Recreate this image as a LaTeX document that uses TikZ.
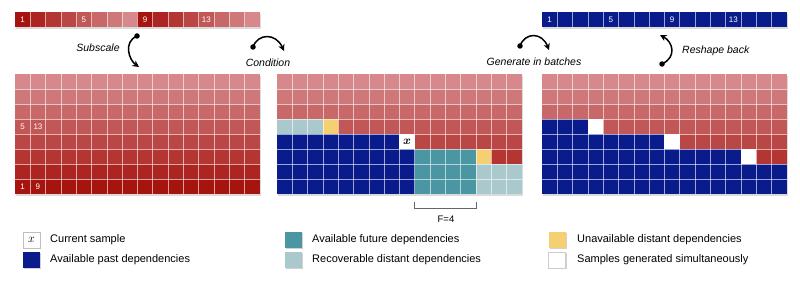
\documentclass[tikz,border=0pt]{standalone}
\usepackage{amsmath}
\usepackage{fontspec}
\setmainfont{Liberation Sans}
\usetikzlibrary{arrows.meta}
\definecolor{rtop}{RGB}{214,136,140}
\definecolor{rbot}{RGB}{165,20,15}
\definecolor{pastblue}{RGB}{10,28,140}
\definecolor{futteal}{RGB}{74,151,163}
\definecolor{distteal}{RGB}{169,201,205}
\definecolor{unavyel}{RGB}{247,207,115}
\tikzset{
  cellline/.style={white, opacity=0.6, line width=0.6pt},
  gshadow/.style={fill=black!14},
  flow/.style={line width=1.5pt, -{Stealth[length=6.5pt,width=6.5pt]}},
  flowdot/.style={circle, fill=black, inner sep=0pt, minimum size=5.5pt},
  steplabel/.style={font=\fontsize{10.5}{12}\selectfont\itshape, inner sep=0pt},
  legtext/.style={anchor=west, font=\fontsize{11}{13}\selectfont, inner sep=0pt},
  legbox/.style={minimum width=17pt, minimum height=16pt, inner sep=0pt},
  legshadow/.style={fill=black!18, minimum width=17pt, minimum height=16pt, inner sep=0pt},
  celllabel/.style={text=white, font=\fontsize{8}{9}\selectfont, inner sep=0pt},
  xmark/.style={inner sep=0pt, font=\fontsize{12}{12}\selectfont},
}
% #1 grid x0, #2 col from, #3 row from, #4 col to, #5 row to, #6 colour
\newcommand{\blk}[6]{\fill[#6] ({#1+(#2-1)*15.3},{74+(#3-1)*15}) rectangle ({#1+#4*15.3},{74+#5*15});}
\newcommand{\redrows}[1]{%
  \fill[gshadow] ({#1+1},76) rectangle ++(244.8,120);
  \foreach \r in {1,...,8}{%
    \pgfmathtruncatemacro\tt{100*(\r-1)/7}%
    \fill[rbot!\tt!rtop] (#1,{74+(\r-1)*15}) rectangle ++(244.8,15);
  }}
\newcommand{\gridlines}[1]{%
  \foreach \i in {1,...,15}{\draw[cellline] ({#1+\i*15.3},74) -- ++(0,120);}
  \foreach \j in {1,...,7}{\draw[cellline] (#1,{74+\j*15}) -- ++(244.8,0);}}
\begin{document}
\begin{tikzpicture}[x=1pt,y=-1pt]
\useasboundingbox (0,0) rectangle (800,288);

% ---------- top-left strip ----------
\fill[gshadow] (16,14) rectangle ++(244.8,15);
\foreach \k in {1,...,16}{%
  \pgfmathtruncatemacro\m{mod(\k-1,8)}%
  \pgfmathtruncatemacro\tt{100*(7-\m)/7}%
  \fill[rbot!\tt!rtop] ({15+(\k-1)*15.3},12) rectangle ++(15.3,15);
}
\foreach \i in {1,...,15}{\draw[cellline] ({15+\i*15.3},12) -- ++(0,15);}
\node[celllabel] (s1) at (22.65,19.5) {1};
\node[celllabel] (s5) at (83.85,19.5) {5};
\node[celllabel] (s9) at (145.05,19.5) {9};
\node[celllabel] (s13) at (206.25,19.5) {13};

% ---------- top-right strip ----------
\fill[gshadow] (543,14) rectangle ++(244.8,15);
\fill[pastblue] (542,12) rectangle ++(244.8,15);
\foreach \i in {1,...,15}{\draw[cellline] ({542+\i*15.3},12) -- ++(0,15);}
\node[celllabel] (t1) at (549.65,19.5) {1};
\node[celllabel] (t5) at (610.85,19.5) {5};
\node[celllabel] (t9) at (672.05,19.5) {9};
\node[celllabel] (t13) at (733.25,19.5) {13};

% ---------- left grid ----------
\redrows{15}
\gridlines{15}
\node[celllabel] (g5) at (22.65,126.5) {5};
\node[celllabel] (g13) at (37.95,126.5) {13};
\node[celllabel] (g1) at (22.65,186.5) {1};
\node[celllabel] (g9) at (37.95,186.5) {9};

% ---------- middle grid ----------
\redrows{277}
\blk{277}{1}{4}{3}{4}{distteal}
\blk{277}{4}{4}{4}{4}{unavyel}
\blk{277}{1}{5}{8}{5}{pastblue}
\blk{277}{9}{5}{9}{5}{white}
\blk{277}{1}{6}{9}{8}{pastblue}
\blk{277}{10}{6}{13}{8}{futteal}
\blk{277}{14}{6}{14}{6}{unavyel}
\blk{277}{14}{7}{16}{8}{distteal}
\gridlines{277}
\node[xmark] (cur) at (407.05,141.5) {$\boldsymbol{x}$};
\draw[black!60, line width=0.6pt] (414.7,202) -- (414.7,208) -- (476,208) -- (476,202);
\node[font=\fontsize{9.5}{11}\selectfont, inner sep=0pt] (F) at (446,219) {F=4};

% ---------- right grid ----------
\redrows{542}
\blk{542}{1}{4}{3}{4}{pastblue}
\blk{542}{4}{4}{4}{4}{white}
\blk{542}{1}{5}{8}{5}{pastblue}
\blk{542}{9}{5}{9}{5}{white}
\blk{542}{1}{6}{13}{6}{pastblue}
\blk{542}{14}{6}{14}{6}{white}
\blk{542}{1}{7}{16}{8}{pastblue}
\gridlines{542}

% ---------- step arrows ----------
\node[flowdot] (d1) at (137,36) {};
\coordinate (e1) at (139,67);
\draw[flow] (d1.center) .. controls (123,42) and (129,60) .. (e1);
\node[steplabel] (l1) at (98,48) {Subscale};

\node[flowdot] (d2) at (253,47) {};
\coordinate (e2) at (284,51);
\draw[flow] (d2.center) .. controls (258,33) and (276,33) .. (e2);
\node[steplabel] (l2) at (268,63) {Condition};

\node[flowdot] (d3) at (520,46) {};
\coordinate (e3) at (549,50);
\draw[flow] (d3.center) .. controls (525,32) and (542,32) .. (e3);
\node[steplabel] (l3) at (534,62) {Generate in batches};

\node[flowdot] (d4) at (662,64) {};
\coordinate (e4) at (660,35);
\draw[flow] (d4.center) .. controls (677,57) and (673,42) .. (e4);
\node[steplabel, anchor=west] (l4) at (682,51) {Reshape back};

% ---------- legend ----------
\foreach \nm/\cx/\cy in {a/31.5/240, b/31.5/260, c/293.5/240, d/293.5/260, e/557/240, f/557/260}{
  \node[legshadow] (sh\nm) at (\cx+1,\cy+1.5) {};
}
\node[legbox, fill=white, draw=black!25, font=\fontsize{12}{12}\selectfont] (ka) at (31.5,240) {$x$};
\node[legbox, fill=pastblue] (kb) at (31.5,260) {};
\node[legbox, fill=futteal] (kc) at (293.5,240) {};
\node[legbox, fill=distteal] (kd) at (293.5,260) {};
\node[legbox, fill=unavyel] (ke) at (557,240) {};
\node[legbox, fill=white, draw=black!20] (kf) at (557,260) {};
\node[legtext] (ta) at (50,240) {Current sample};
\node[legtext] (tb) at (50,260) {Available past dependencies};
\node[legtext] (tc) at (312,240) {Available future dependencies};
\node[legtext] (td) at (312,260) {Recoverable distant dependencies};
\node[legtext] (te) at (577,240) {Unavailable distant dependencies};
\node[legtext] (tf) at (577,260) {Samples generated simultaneously};
\end{tikzpicture}
\end{document}
